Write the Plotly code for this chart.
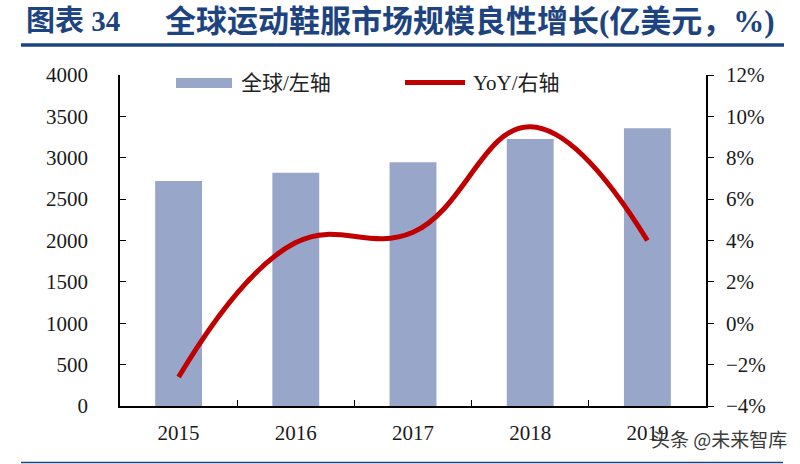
import plotly.graph_objects as go

years = ["2015", "2016", "2017", "2018", "2019"]
market_size = [2720, 2820, 2945, 3227, 3356]   # 亿美元, left axis
yoy = [-2.6, 3.9, 4.4, 9.5, 4.0]              # %, right axis

left_ticks = [0, 500, 1000, 1500, 2000, 2500, 3000, 3500, 4000]
right_ticks = [-4, -2, 0, 2, 4, 6, 8, 10, 12]

W, H = 800, 464
L, R, T, B = 120, 706, 75, 406  # plot-area pixel box

def px(x):
    return (x - L) / (R - L)

def py(y):
    return (B - y) / (B - T)

BAR_COLOR = "#98A6CA"
LINE_COLOR = "#C00000"
NAVY = "#1D4480"
SERIF = "Liberation Serif"
CJK = "Noto Sans CJK SC"
MIX = "Liberation Serif, Noto Sans CJK SC"

fig = go.Figure()
fig.add_trace(go.Bar(x=years, y=market_size, marker=dict(color=BAR_COLOR, line=dict(width=0)),
                     width=0.4, name="全球/左轴", showlegend=False))
fig.add_trace(go.Scatter(x=years, y=yoy, yaxis="y2", mode="lines",
                         line=dict(color=LINE_COLOR, width=5, shape="spline", smoothing=1.2),
                         name="YoY/右轴", showlegend=False))

fig.update_layout(
    width=W, height=H,
    margin=dict(l=L, r=W - R, t=T, b=H - B, autoexpand=False),
    paper_bgcolor="white", plot_bgcolor="white",
    font=dict(family=SERIF, color="#1a1a1a", size=20),
    xaxis=dict(type="category", showline=True, linecolor="black", linewidth=1.5,
               ticks="inside", tickson="boundaries", ticklen=6, tickcolor="black",
               showgrid=False, tickfont=dict(family=SERIF, size=21),
               ticklabelstandoff=7),
    yaxis=dict(range=[0, 4000], tickvals=left_ticks, showline=True, linecolor="black",
               linewidth=1.5, ticks="inside", ticklen=6, tickcolor="black", showgrid=False,
               zeroline=False, tickfont=dict(family=SERIF, size=21), ticklabelstandoff=26),
    yaxis2=dict(range=[-4, 12], tickvals=right_ticks,
                ticktext=[f"{v}%".replace("-", "\u2212") for v in right_ticks],
                overlaying="y", side="right", showline=True, linecolor="black", linewidth=1.5,
                ticks="outside", ticklen=6, tickcolor="black", showgrid=False, zeroline=False,
                tickfont=dict(family=SERIF, size=21), ticklabelstandoff=8),
)

shapes = []
annotations = []

# title and rules
annotations.append(dict(text="<b>图表 34</b>", x=px(24), y=py(21), xref="paper", yref="paper",
                        xanchor="left", yanchor="middle", showarrow=False,
                        font=dict(family=MIX, size=29, color=NAVY)))
annotations.append(dict(text="<b>全球运动鞋服市场规模良性增长(亿美元，%)</b>", x=px(163), y=py(21),
                        xref="paper", yref="paper", xanchor="left", yanchor="middle", showarrow=False,
                        font=dict(family=MIX, size=31, color=NAVY)))
shapes.append(dict(type="line", xref="paper", yref="paper", x0=px(21), x1=px(784), y0=py(45), y1=py(45),
                   line=dict(color=NAVY, width=3.5)))
shapes.append(dict(type="line", xref="paper", yref="paper", x0=px(21), x1=px(783), y0=py(462.5), y1=py(462.5),
                   line=dict(color=NAVY, width=1.5)))

# custom legend
shapes.append(dict(type="rect", xref="paper", yref="paper", x0=px(176), x1=px(232), y0=py(88), y1=py(78),
                   fillcolor=BAR_COLOR, line=dict(width=0)))
annotations.append(dict(text="全球/左轴", x=px(239), y=py(83), xref="paper", yref="paper",
                        xanchor="left", yanchor="middle", showarrow=False,
                        font=dict(family=MIX, size=21, color="#222")))
shapes.append(dict(type="line", xref="paper", yref="paper", x0=px(405), x1=px(465), y0=py(82.5), y1=py(82.5),
                   line=dict(color=LINE_COLOR, width=5)))
annotations.append(dict(text="YoY/右轴", x=px(471), y=py(83), xref="paper", yref="paper",
                        xanchor="left", yanchor="middle", showarrow=False,
                        font=dict(family=MIX, size=21, color="#222")))

# watermark (overlaps the 2019 label in the reference too)
annotations.append(dict(text="头条 @未来智库", x=px(789), y=py(438), xref="paper", yref="paper",
                        xanchor="right", yanchor="middle", showarrow=False,
                        font=dict(family=CJK, size=19, color="#3a3a3a")))

fig.update_layout(shapes=shapes, annotations=annotations)
fig.write_html("out.html", config={"displayModeBar": False},
               post_script="document.body.style.margin='0';document.body.style.overflow='hidden';")
